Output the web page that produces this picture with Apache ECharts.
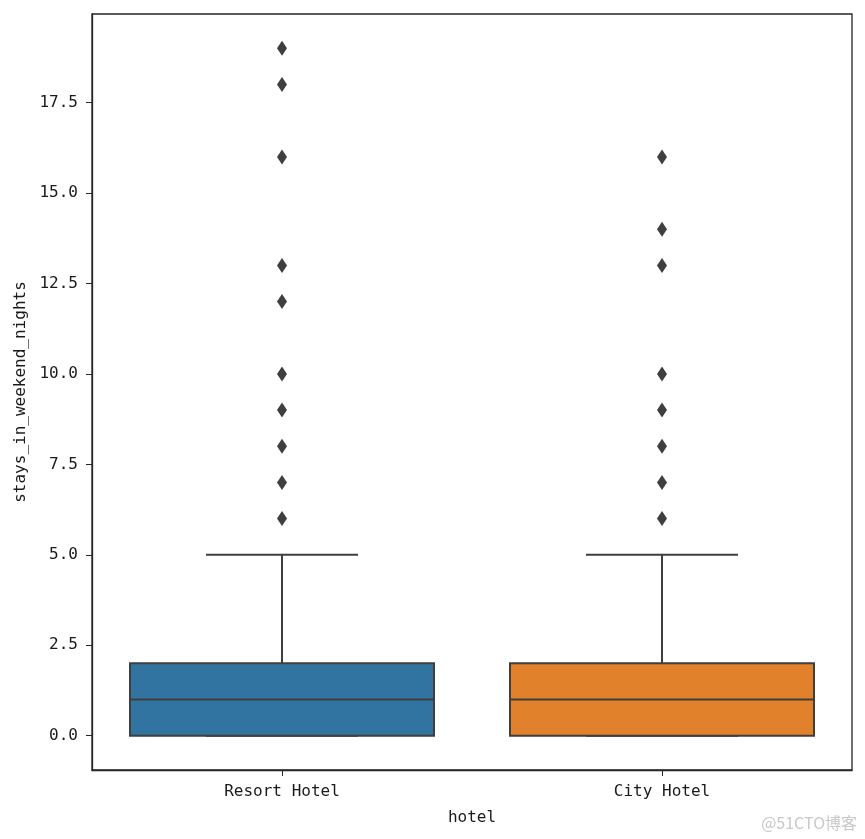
<!DOCTYPE html>
<html>
<head>
<meta charset="utf-8">
<script src="https://cdn.jsdelivr.net/npm/echarts@6/dist/echarts.min.js"></script>
<style>
html,body{margin:0;padding:0;background:#fff;}
#c{width:865px;height:839px;}
</style>
</head>
<body>
<div id="c"></div>
<script>
const categories = ['Resort Hotel', 'City Hotel'];
const whiskerLow = [0, 0];
const q1 = [0, 0];
const median = [1, 1];
const q3 = [2, 2];
const whiskerHigh = [5, 5];
const outliersResort = [6, 7, 8, 9, 10, 12, 13, 16, 18, 19];
const outliersCity = [6, 7, 8, 9, 10, 13, 14, 16];
const yTicks = [0, 2.5, 5, 7.5, 10, 12.5, 15, 17.5];
const boxColors = ['#3274a1', '#e1812c'];

const lineColor = '#3f3f3f';
const font = 'DejaVu Sans Mono';
const textColor = '#1a1a1a';

const boxData = categories.map((c, i) => [i, whiskerLow[i], q1[i], median[i], q3[i], whiskerHigh[i]]);
const outlierData = [];
outliersResort.forEach(v => outlierData.push([0, v]));
outliersCity.forEach(v => outlierData.push([1, v]));

const chart = echarts.init(document.getElementById('c'));
chart.setOption({
  animation: false,
  backgroundColor: '#fff',
  grid: { left: 92, right: 13, top: 14, bottom: 69, show: true, borderColor: '#262626', borderWidth: 1.3 },
  xAxis: {
    type: 'category',
    data: categories,
    boundaryGap: true,
    name: 'hotel',
    nameLocation: 'middle',
    nameGap: 40,
    nameTextStyle: { fontFamily: font, fontSize: 16, color: textColor },
    axisLine: { show: true, onZero: false, lineStyle: { color: '#262626', width: 1.3 } },
    axisTick: { show: true, alignWithLabel: true, length: 6, lineStyle: { color: '#262626' } },
    axisLabel: { fontFamily: font, fontSize: 16, color: textColor, margin: 14 },
    splitLine: { show: false }
  },
  yAxis: {
    type: 'value',
    min: -0.95,
    max: 19.95,
    name: 'stays_in_weekend_nights',
    nameLocation: 'middle',
    nameGap: 62,
    nameTextStyle: { fontFamily: font, fontSize: 16, color: textColor },
    axisLine: { show: true, onZero: false, lineStyle: { color: '#262626', width: 1.3 } },
    axisTick: { show: true, length: 6, customValues: yTicks, lineStyle: { color: '#262626' } },
    axisLabel: { fontFamily: font, fontSize: 16, color: textColor, margin: 14, customValues: yTicks, formatter: v => Number(v).toFixed(1) },
    splitLine: { show: false }
  },
  series: [
    {
      type: 'custom',
      data: boxData,
      encode: { x: 0, y: [1, 2, 3, 4, 5] },
      renderItem: function (params, api) {
        const idx = api.value(0);
        const lo = api.coord([idx, api.value(1)]);
        const b1 = api.coord([idx, api.value(2)]);
        const md = api.coord([idx, api.value(3)]);
        const b3 = api.coord([idx, api.value(4)]);
        const hi = api.coord([idx, api.value(5)]);
        const bw = api.size([1, 0])[0] * 0.8;
        const cx = lo[0];
        const ls = { stroke: lineColor, lineWidth: 2 };
        return {
          type: 'group',
          children: [
            { type: 'line', shape: { x1: cx, y1: b3[1], x2: cx, y2: hi[1] }, style: ls },
            { type: 'line', shape: { x1: cx - bw / 4, y1: hi[1], x2: cx + bw / 4, y2: hi[1] }, style: ls },
            { type: 'line', shape: { x1: cx, y1: b1[1], x2: cx, y2: lo[1] }, style: ls },
            { type: 'line', shape: { x1: cx - bw / 4, y1: lo[1], x2: cx + bw / 4, y2: lo[1] }, style: ls },
            { type: 'rect', shape: { x: cx - bw / 2, y: b3[1], width: bw, height: b1[1] - b3[1] },
              style: { fill: boxColors[idx], stroke: lineColor, lineWidth: 2 } },
            { type: 'line', shape: { x1: cx - bw / 2, y1: md[1], x2: cx + bw / 2, y2: md[1] }, style: ls }
          ]
        };
      }
    },
    {
      type: 'scatter',
      data: outlierData,
      symbol: 'diamond',
      symbolSize: [10, 15],
      itemStyle: { color: '#3f3f3f', opacity: 1 }
    }
  ],
  graphic: [
    { type: 'text', right: 8, bottom: 8, style: { text: '@51CTO博客', fontSize: 16, fill: '#c8c8c8', fontFamily: 'Noto Sans CJK SC' } }
  ]
});
</script>
</body>
</html>
